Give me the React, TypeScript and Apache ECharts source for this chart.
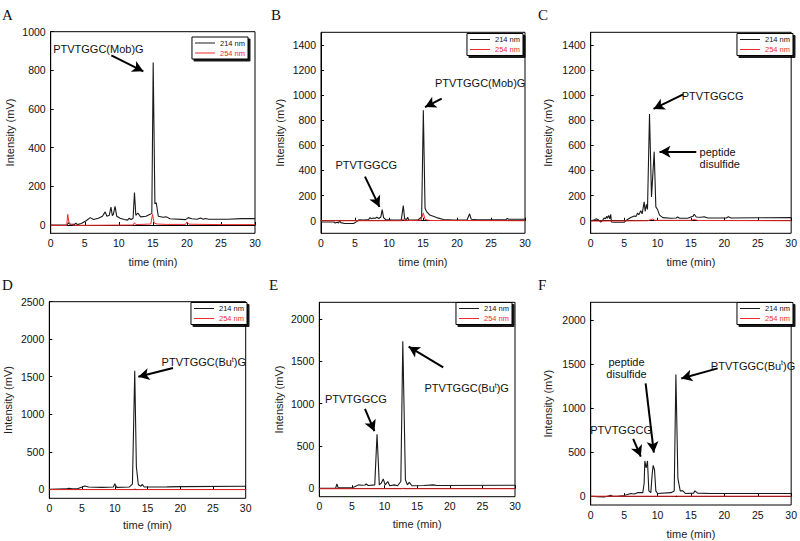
import React, { useEffect, useRef } from "react";
import * as echarts from "echarts";

// ---------- data: [time (min), intensity (mV)] ----------
const a214: number[][] = [[0,0],[2.4,0],[2.6,12],[2.8,4],[3.5,3],[3.7,10],[3.9,2],[4.5,8],[5.2,22],[5.8,38],[6.3,28],[7.0,35],[7.6,45],[8.0,68],[8.25,45],[8.6,50],[8.85,92],[9.05,48],[9.2,55],[9.45,96],[9.7,45],[10.2,35],[10.8,28],[11.3,25],[11.5,35],[11.8,28],[12.1,35],[12.3,168],[12.5,50],[12.8,62],[13.2,42],[14.0,45],[14.6,55],[14.85,60],[15.05,840],[15.3,110],[15.5,115],[15.8,45],[16.5,40],[17.0,42],[17.5,32],[19.8,28],[20.2,38],[20.7,32],[21.5,30],[22.0,36],[22.4,30],[22.7,34],[23.2,30],[26,30],[28,33],[30,33]];
const a254: number[][] = [[0,-2],[2.35,-2],[2.5,55],[2.65,20],[2.8,5],[3.5,-2],[12.1,0],[12.3,12],[12.5,2],[14.7,5],[14.95,55],[15.2,10],[15.6,5],[17,3],[19.8,3],[20.0,16],[20.3,4],[25,2],[30,2]];
const b214: number[][] = [[0,-10],[1.9,-10],[2.1,-18],[2.4,-12],[2.6,-18],[2.75,5],[2.9,-15],[3.5,-22],[4.8,-22],[5.3,-5],[5.6,8],[6.3,6],[7.0,10],[7.2,25],[7.4,15],[7.7,22],[8.0,20],[8.2,28],[8.5,18],[8.8,30],[9.0,88],[9.2,25],[9.5,10],[10.5,5],[11.8,5],[12.1,120],[12.3,15],[12.6,10],[12.75,28],[12.9,5],[14.3,8],[14.8,30],[15.05,880],[15.3,100],[15.5,75],[16.0,45],[17,25],[18,10],[19.5,5],[21.5,8],[21.85,55],[22.1,12],[23,8],[27.2,10],[27.4,18],[27.6,12],[30,12]];
const b254: number[][] = [[0,0],[11.9,0],[12.1,15],[12.3,0],[14.7,5],[15.05,62],[15.3,10],[16,2],[30,0]];
const c214: number[][] = [[0,0],[0.5,5],[0.8,15],[1.2,5],[1.5,-10],[1.8,5],[2.0,22],[2.2,15],[2.4,35],[2.5,20],[2.7,42],[2.85,15],[3.0,50],[3.1,-10],[3.5,-12],[5.0,-12],[5.5,10],[6.0,25],[6.5,38],[6.8,35],[7.0,60],[7.2,48],[7.5,80],[7.7,55],[8.0,150],[8.15,75],[8.35,130],[8.5,90],[8.8,850],[9.1,190],[9.5,550],[9.75,110],[10.0,90],[10.3,45],[10.8,25],[12,20],[12.8,22],[13,30],[13.3,20],[14.5,20],[15.3,35],[15.5,52],[15.8,30],[16.5,28],[17.0,32],[17.5,22],[20.3,22],[20.6,32],[21,22],[25,24],[30,25]];
const c254: number[][] = [[0,-3],[8.5,0],[9.3,14],[9.6,3],[15,3],[15.5,10],[16,2],[30,0]];
const d214: number[][] = [[0,0],[2.5,5],[3,15],[3.5,8],[4.2,5],[5.0,30],[5.4,45],[6,30],[8,25],[9.8,30],[10.0,75],[10.3,25],[12.2,30],[12.7,70],[13.05,1580],[13.3,300],[13.6,60],[14.0,40],[14.2,65],[14.5,30],[18,32],[20,35],[30,40]];
const d254: number[][] = [[0,-4],[12.9,-4],[13.1,4],[13.3,-4],[30,-4]];
const e214: number[][] = [[0,0],[2.5,0],[2.7,50],[2.9,5],[5.0,5],[5.5,20],[6.0,40],[6.5,35],[7.0,38],[7.2,50],[7.5,32],[8.5,40],[8.85,640],[9.05,300],[9.2,40],[9.5,60],[9.8,110],[10.1,40],[10.5,80],[10.8,30],[11.5,40],[12.0,30],[12.5,80],[12.8,1740],[13.2,100],[13.5,40],[13.8,70],[14.2,30],[16,32],[17.5,40],[18,32],[30,35]];
const e254: number[][] = [[0,-6],[12.7,-6],[12.85,2],[13.0,-6],[30,-6]];
const f214: number[][] = [[0,0],[1,-5],[2,-10],[2.5,0],[3,10],[3.3,0],[4,0],[5,8],[5.5,20],[6,30],[6.5,25],[7,40],[7.8,40],[8.0,150],[8.1,400],[8.3,320],[8.5,400],[8.7,60],[9.0,40],[9.2,250],[9.35,350],[9.55,300],[9.75,60],[10,30],[12,40],[12.5,60],[12.75,1380],[13.05,200],[13.4,60],[13.8,60],[14.2,30],[15.4,35],[15.6,60],[16,35],[18,30],[30,30]];
const f254: number[][] = [[0,0],[12.7,0],[12.8,6],[12.95,0],[30,0]];

const seriesNames = ["214 nm", "254 nm"];
const xTicks = [0, 5, 10, 15, 20, 25, 30];
const yTicksA = [0, 200, 400, 600, 800, 1000];
const yTicksBC = [0, 200, 400, 600, 800, 1000, 1200, 1400];
const yTicksD = [0, 500, 1000, 1500, 2000, 2500];
const yTicksEF = [0, 500, 1000, 1500, 2000];
const panelLetters = ["A", "B", "C", "D", "E", "F"];

// annotations in data coordinates
type Note = { text: string; at: number[]; align?: string };
const notesA: Note[] = [{ text: "PTVTGGC(Mob)G", at: [7.0, 910] }];
const arrowsA = [[8.9, 878, 13.6, 795]];
const notesB: Note[] = [{ text: "PTVTGGC(Mob)G", at: [23.4, 1100] }, { text: "PTVTGGCG", at: [6.66, 445] }];
const arrowsB = [[17.75, 972, 15.3, 905], [6.47, 351, 8.6, 110]];
const notesC: Note[] = [{ text: "PTVTGGCG", at: [18.25, 990] }, { text: "peptide\ndisulfide", at: [16.3, 503], align: "left" }];
const arrowsC = [[13.85, 1006, 9.4, 890], [15.8, 549, 10.3, 549]];
const notesD: Note[] = [{ text: "PTVTGGC(Bu{s|t})G", at: [23.6, 1690] }];
const arrowsD = [[18.9, 1616, 13.6, 1500]];
const notesE: Note[] = [{ text: "PTVTGGC(Bu{s|t})G", at: [22.6, 1186] }, { text: "PTVTGGCG", at: [5.6, 1056] }];
const arrowsE = [[19.0, 1429, 13.7, 1675], [7.0, 939, 8.45, 675]];
const notesF: Note[] = [{ text: "PTVTGGC(Bu{s|t})G", at: [24.3, 1480] }, { text: "peptide\ndisulfide", at: [5.36, 1458] }, { text: "PTVTGGCG", at: [4.55, 754] }];
const arrowsF = [[19.0, 1450, 13.55, 1336], [8.22, 1280, 9.45, 495], [6.36, 651, 7.5, 450]];

const SANS = "'Liberation Sans', Arial, Helvetica, sans-serif";
const SERIF = "'Liberation Serif', 'Times New Roman', serif";
const BLACK = "#1a1a1a";
const RED = "#ee2a2a";

type Panel = {
  s214: number[][]; s254: number[][];
  grid: { left: number; top: number; width: number; height: number };
  ymin: number; ymax: number; yTicks: number[];
  yNameGap: number; xNameGap: number;
  legend: { right: number; top: number };
  letter: { x: number; y: number };
  notes: Note[]; arrows: number[][];
};

const panels: Panel[] = [
  { s214: a214, s254: a254, grid: { left: 50.7, top: 31.7, width: 204.3, height: 201.6 }, ymin: -43, ymax: 1000, yTicks: yTicksA, yNameGap: 35, xNameGap: 23, legend: { right: 552, top: 37 }, letter: { x: 2, y: 7 }, notes: notesA, arrows: arrowsA },
  { s214: b214, s254: b254, grid: { left: 321, top: 32.3, width: 204, height: 201 }, ymin: -100, ymax: 1500, yTicks: yTicksBC, yNameGap: 36, xNameGap: 23, legend: { right: 277, top: 33.5 }, letter: { x: 271, y: 7 }, notes: notesB, arrows: arrowsB },
  { s214: c214, s254: c254, grid: { left: 590.7, top: 32.3, width: 204.3, height: 201 }, ymin: -100, ymax: 1500, yTicks: yTicksBC, yNameGap: 37.5, xNameGap: 23, legend: { right: 7, top: 33.5 }, letter: { x: 538, y: 7 }, notes: notesC, arrows: arrowsC },
  { s214: d214, s254: d254, grid: { left: 49.3, top: 301.7, width: 196.4, height: 196.6 }, ymin: -120, ymax: 2500, yTicks: yTicksD, yNameGap: 36, xNameGap: 21, legend: { right: 553, top: 302.5 }, letter: { x: 2, y: 277 }, notes: notesD, arrows: arrowsD },
  { s214: e214, s254: e254, grid: { left: 319.3, top: 302.3, width: 195.7, height: 194.4 }, ymin: -100, ymax: 2200, yTicks: yTicksEF, yNameGap: 35, xNameGap: 21.5, legend: { right: 288, top: 302.5 }, letter: { x: 269, y: 277 }, notes: notesE, arrows: arrowsE },
  { s214: f214, s254: f254, grid: { left: 590.7, top: 302.3, width: 204.3, height: 202.7 }, ymin: -100, ymax: 2200, yTicks: yTicksEF, yNameGap: 37.5, xNameGap: 23.5, legend: { right: 7, top: 302.5 }, letter: { x: 538, y: 277 }, notes: notesF, arrows: arrowsF },
];

const plain = (v: number) => String(v);

function buildOption() {
  const grid: any[] = [], xAxis: any[] = [], yAxis: any[] = [], series: any[] = [], legend: any[] = [], graphic: any[] = [];
  panels.forEach((p, i) => {
    grid.push({ ...p.grid, show: true, borderColor: "#000", borderWidth: 1, backgroundColor: "#fff" });
    xAxis.push({
      type: "value", gridIndex: i, min: 0, max: 30, interval: 5,
      name: "time (min)", nameLocation: "middle", nameGap: p.xNameGap,
      nameTextStyle: { fontFamily: SANS, fontSize: 11, color: "#222", fontWeight: "normal" },
      axisLine: { show: true, lineStyle: { color: "#000", width: 1 } },
      axisTick: { show: true, inside: true, length: 3, lineStyle: { color: "#000" } },
      axisLabel: { fontFamily: SANS, fontSize: 10.5, color: "#111", margin: 4, customValues: xTicks, formatter: plain },
      splitLine: { show: false },
    });
    yAxis.push({
      type: "value", gridIndex: i, min: p.ymin, max: p.ymax,
      name: "Intensity (mV)", nameLocation: "middle", nameGap: p.yNameGap,
      nameTextStyle: { fontFamily: SANS, fontSize: 11, color: "#222", fontWeight: "normal" },
      axisLine: { show: true, lineStyle: { color: "#000", width: 1 } },
      axisTick: { show: true, inside: true, length: 3, lineStyle: { color: "#000" }, customValues: p.yTicks },
      axisLabel: { fontFamily: SANS, fontSize: 10.5, color: "#111", margin: 5, customValues: p.yTicks, formatter: plain },
      splitLine: { show: false },
    });
    series.push({
      type: "line", name: seriesNames[0], xAxisIndex: i, yAxisIndex: i, data: p.s214,
      showSymbol: false, symbol: "none", silent: true, z: 2,
      lineStyle: { color: BLACK, width: 1.1 }, itemStyle: { color: BLACK },
      markLine: {
        silent: true, symbol: ["none", "arrow"], symbolSize: [9, 11], animation: false,
        lineStyle: { color: "#000", width: 2, type: "solid" }, label: { show: false },
        emphasis: { disabled: true },
        data: p.arrows.map((a) => [{ coord: [a[0], a[1]] }, { coord: [a[2], a[3]] }]),
      },
      markPoint: {
        silent: true, symbol: "rect", symbolSize: 1, itemStyle: { color: "rgba(0,0,0,0)" }, animation: false,
        data: p.notes.map((n) => ({
          coord: n.at,
          label: {
            show: true, position: "inside", formatter: n.text, align: n.align || "center",
            fontFamily: SANS, fontSize: 11, color: "#111", lineHeight: 12,
            rich: { s: { fontFamily: SANS, fontSize: 7, color: "#111", padding: [0, 0, 6, 0] } },
          },
        })),
      },
    });
    series.push({
      type: "line", name: seriesNames[1], xAxisIndex: i, yAxisIndex: i, data: p.s254,
      showSymbol: false, symbol: "none", silent: true, z: 3,
      lineStyle: { color: RED, width: 1 }, itemStyle: { color: RED },
    });
    legend.push({
      right: p.legend.right, top: p.legend.top, orient: "vertical", selectedMode: false,
      icon: "rect", itemWidth: 20, itemHeight: 1, itemGap: 2, padding: [2, 3, 2, 3],
      backgroundColor: "#fff", borderColor: "#000", borderWidth: 1,
      shadowColor: "rgba(0,0,0,0.9)", shadowBlur: 1, shadowOffsetX: 2, shadowOffsetY: 2,
      textStyle: { fontFamily: SANS, fontSize: 7.5, padding: [0, 0, 0, 0] },
      data: [
        { name: seriesNames[0], textStyle: { color: "#111" } },
        { name: seriesNames[1], textStyle: { color: RED } },
      ],
    });
    graphic.push({
      type: "text", left: p.letter.x, top: p.letter.y, silent: true,
      style: { text: panelLetters[i], font: `15px ${SERIF}`, fill: "#111" },
    });
  });
  return { animation: false, backgroundColor: "#fff", grid, xAxis, yAxis, series, legend, graphic };
}

export default function App() {
  const ref = useRef<HTMLDivElement>(null);
  useEffect(() => {
    if (!ref.current) return;
    const chart = echarts.init(ref.current, null, { renderer: "svg" });
    chart.setOption(buildOption() as any);
    return () => chart.dispose();
  }, []);
  return <div ref={ref} style={{ position: "absolute", left: 0, top: 0, width: 800, height: 541 }} />;
}
